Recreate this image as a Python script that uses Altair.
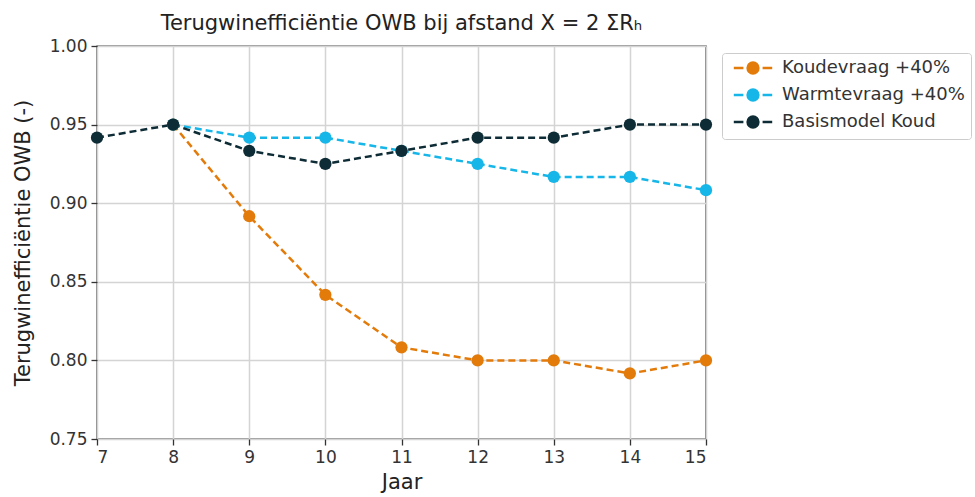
import altair as alt
import pandas as pd

years = [7, 8, 9, 10, 11, 12, 13, 14, 15]
koude = [0.9417, 0.95, 0.8917, 0.8417, 0.8083, 0.80, 0.80, 0.7917, 0.80]
warmte = [0.9417, 0.95, 0.9417, 0.9417, 0.9333, 0.925, 0.9167, 0.9167, 0.9083]
basis = [0.9417, 0.95, 0.9333, 0.925, 0.9333, 0.9417, 0.9417, 0.95, 0.95]
series = ["Koudevraag +40%", "Warmtevraag +40%", "Basismodel Koud"]
colors = ["#E37B0B", "#16B6E8", "#0E2C36"]

rows = []
for name, vals in zip(series, [koude, warmte, basis]):
    for yr, v in zip(years, vals):
        if name != "Basismodel Koud" and yr == 7:
            continue
        rows.append({"Jaar": yr, "val": v, "serie": name})
df = pd.DataFrame(rows)

font = "DejaVu Sans"
legend_shape = ("M-3.2,0 L-1.6,0 M1.6,0 L3.2,0 "
                "M0.9,0 A0.9,0.9 0 1,1 -0.9,0 A0.9,0.9 0 1,1 0.9,0 Z")

color = alt.Color(
    "serie:N",
    scale=alt.Scale(domain=series, range=colors),
    sort=series,
    legend=alt.Legend(
        title=None, orient="none", legendX=625, legendY=7,
        labelFont=font, labelFontSize=18, labelColor="#333", labelLimit=400,
        symbolType=legend_shape, symbolSize=144, symbolStrokeWidth=2.5,
        strokeColor="#cccccc", fillColor="white", cornerRadius=3,
        padding=6, rowPadding=5, labelOffset=20, symbolOffset=16,
    ),
)

x = alt.X("Jaar:Q", scale=alt.Scale(domain=[7, 15], nice=False, zero=False),
          axis=alt.Axis(values=years, format="d", title="Jaar", titleFontSize=21,
                        titlePadding=6))
y = alt.Y("val:Q", scale=alt.Scale(domain=[0.75, 1.0], nice=False, zero=False),
          axis=alt.Axis(values=[0.75, 0.80, 0.85, 0.90, 0.95, 1.00], format=".2f",
                        title="Terugwinefficiëntie OWB (-)", titleFontSize=21,
                        titlePadding=16))

base = alt.Chart(df)
lines = base.mark_line(strokeDash=[7, 4], strokeWidth=2.5).encode(
    x=x, y=y, color=color, detail="serie:N", order="Jaar:Q"
)
points = base.mark_point(filled=True, size=150, opacity=1).encode(
    x=x, y=y, color=color
)

chart = alt.layer(lines, points).properties(
    width=609, height=393,
    title=alt.Title("Terugwinefficiëntie OWB bij afstand X = 2 ΣRₕ", font=font,
                    fontSize=21, fontWeight="normal", color="#222", offset=3),
    autosize=alt.AutoSizeParams(type="none"),
    padding={"left": 97, "top": 46, "right": 269, "bottom": 58},
).configure_axis(
    labelFont=font, titleFont=font, labelFontSize=17, labelColor="#333",
    titleColor="#222", titleFontWeight="normal",
    grid=True, gridColor="#d4d4d4", gridWidth=1.5,
    domain=False, tickColor="#333", tickSize=6, tickWidth=1.3, labelPadding=4,
).configure_view(stroke="#333", strokeWidth=1.4)

chart.save("out.html", embed_options={"renderer": "svg", "actions": False})
